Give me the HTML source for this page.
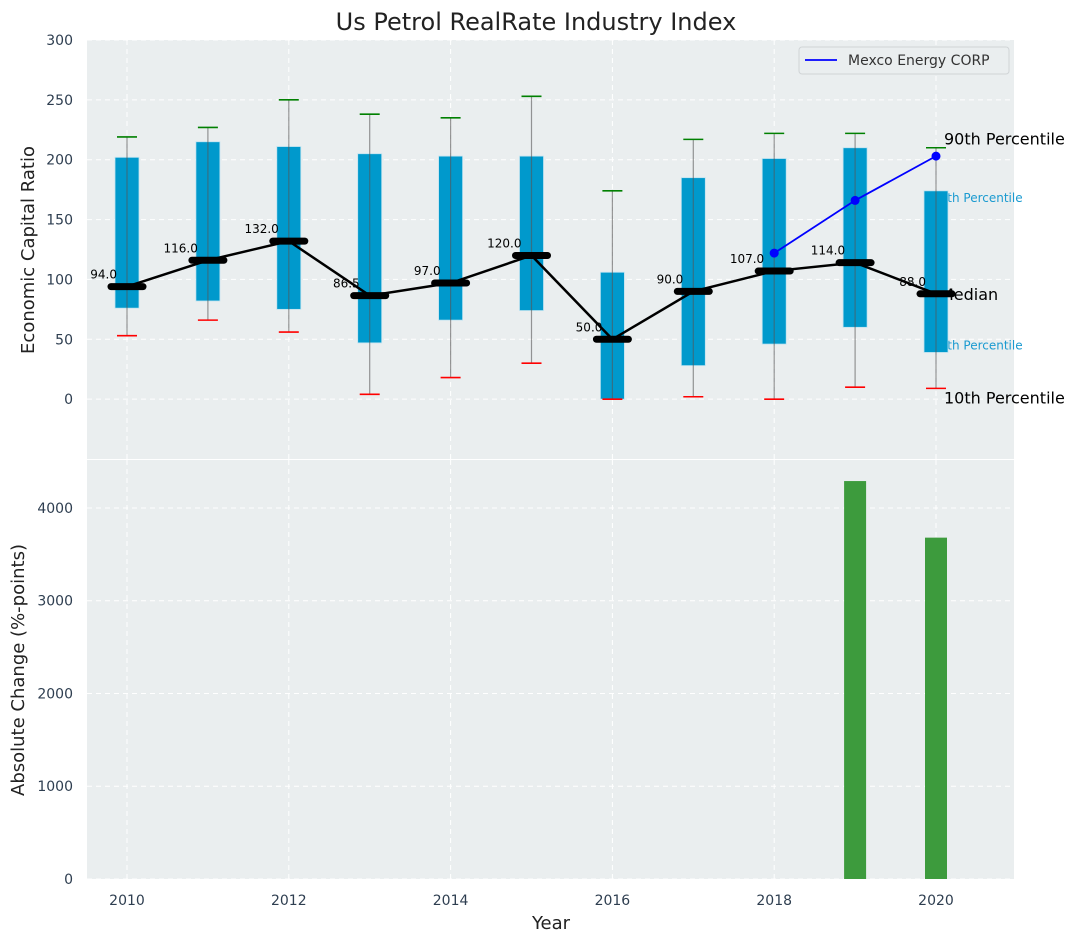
<!DOCTYPE html>
<html><head><meta charset="utf-8"><style>
body{margin:0;background:#fff;font-family:"Liberation Sans","DejaVu Sans",sans-serif;}
svg text{font-family:"DejaVu Sans","Liberation Sans",sans-serif;}
</style></head><body>
<svg id="chart" width="1079" height="942" xmlns="http://www.w3.org/2000/svg">
<text x="536" y="30" font-size="24" text-anchor="middle" fill="#222">Us Petrol RealRate Industry Index</text>
<g id="topPanel"></g>
<g id="botPanel"></g>
</svg>
<script>
const years=[2010,2011,2012,2013,2014,2015,2016,2017,2018,2019,2020];
const p90=[219,227,250,238,235,253,174,217,222,222,210];
const p75=[202,215,211,205,203,203,106,185,201,210,174];
const medians=[94,116,132,86.5,97,120,50,90,107,114,88];
const p25=[76,82,75,47,66,74,0,28,46,60,39];
const p10=[53,66,56,4,18,30,0,2,0,10,9];
const mexcoYears=[2018,2019,2020];
const mexcoValues=[122,166,203];
const changeYears=[2019,2020];
const changeValues=[4290,3680];
const xTicks=[2010,2012,2014,2016,2018,2020];
const yTopTicks=[0,50,100,150,200,250,300];
const yBotTicks=[0,1000,2000,3000,4000];

const NS="http://www.w3.org/2000/svg";
const L=87,R=1014;
const x=v=>127+(v-2010)*80.9;
const TT=40,TB=459,yT=v=>TB+(v+50)/(350)*(TT-TB);
const BT=460,BB=879,yB=v=>BB-v/4517*(BB-BT);
function mk(p,tag,a,txt){const e=document.createElementNS(NS,tag);for(const k in a)e.setAttribute(k,a[k]);if(txt!==undefined)e.textContent=txt;p.appendChild(e);return e;}
const topG=document.getElementById('topPanel'),botG=document.getElementById('botPanel'),svg=document.getElementById('chart');
let e;
e=mk(topG,'rect',{x:L,y:TT,width:R-L,height:TB-TT,fill:'#eaeeef'});


e=mk(botG,'rect',{x:L,y:BT,width:R-L,height:BB-BT,fill:'#eaeeef'});


xTicks.forEach(t=>{
 mk(topG,'line',{x1:x(t),x2:x(t),y1:TT,y2:TB,stroke:'#fff','stroke-dasharray':'5,4','stroke-width':1});
 mk(botG,'line',{x1:x(t),x2:x(t),y1:BT,y2:BB,stroke:'#fff','stroke-dasharray':'5,4','stroke-width':1});
 e=mk(svg,'text',{x:x(t),y:905,'font-size':14,'text-anchor':'middle',fill:'#2e3e50'},String(t));
 
 
});
yTopTicks.forEach(t=>{
 mk(topG,'line',{x1:L,x2:R,y1:yT(t),y2:yT(t),stroke:'#fff','stroke-dasharray':'5,4','stroke-width':1});
 e=mk(topG,'text',{x:73,y:yT(t)+5,'font-size':14,'text-anchor':'end',fill:'#2e3e50'},String(t));
 
 
});
yBotTicks.forEach(t=>{
 mk(botG,'line',{x1:L,x2:R,y1:yB(t),y2:yB(t),stroke:'#fff','stroke-dasharray':'5,4','stroke-width':1});
 e=mk(botG,'text',{x:73,y:yB(t)+5,'font-size':14,'text-anchor':'end',fill:'#2e3e50'},String(t));
 
 
});
const last=years.length-1, ax=x(years[last]);
e=mk(topG,'text',{x:ax+8,y:yT(p90[last])-3,'font-size':16,fill:'#000'},'90th Percentile');


e=mk(topG,'text',{x:ax-4,y:yT(p75[last])+11,'font-size':12,fill:'#1a9ad0'},'75th Percentile');


e=mk(topG,'text',{x:ax+4,y:yT(medians[last])+6,'font-size':16,fill:'#000'},'Median');


e=mk(topG,'text',{x:ax-4,y:yT(p25[last])-3,'font-size':12,fill:'#1a9ad0'},'25th Percentile');


e=mk(topG,'text',{x:ax+8,y:yT(p10[last])+15,'font-size':16,fill:'#000'},'10th Percentile');


years.forEach((yr,i)=>{
 const cx=x(yr);
 e=mk(topG,'rect',{x:cx-12,y:yT(p75[i]),width:24,height:yT(p25[i])-yT(p75[i]),fill:'#0099cc',stroke:'#bfe3f0','stroke-width':0.8});
 
 
 e=mk(topG,'line',{x1:cx,x2:cx,y1:yT(p90[i]),y2:yT(p10[i]),stroke:'#555','stroke-opacity':0.6,'stroke-width':1.2});
 
 
 e=mk(topG,'line',{x1:cx-10,x2:cx+10,y1:yT(p90[i]),y2:yT(p90[i]),stroke:'green','stroke-width':1.6});
 
 
 e=mk(topG,'line',{x1:cx-10,x2:cx+10,y1:yT(p10[i]),y2:yT(p10[i]),stroke:'red','stroke-width':1.6});
 
 
});
e=mk(topG,'polyline',{points:years.map((yr,i)=>x(yr)+','+yT(medians[i])).join(' '),fill:'none',stroke:'#000','stroke-width':2.5});


years.forEach((yr,i)=>{
 const cx=x(yr),cy=yT(medians[i]);
 e=mk(topG,'line',{x1:cx-16,x2:cx+16,y1:cy,y2:cy,stroke:'#000','stroke-width':7,'stroke-linecap':'round'});
 
 
 e=mk(topG,'text',{x:cx-10,y:cy-8,'font-size':12,'text-anchor':'end',fill:'#000'},medians[i].toFixed(1));
 
 
});
e=mk(topG,'polyline',{points:mexcoYears.map((yr,i)=>x(yr)+','+yT(mexcoValues[i])).join(' '),fill:'none',stroke:'#0000ff','stroke-width':1.8});


mexcoYears.forEach((yr,i)=>{
 e=mk(topG,'circle',{cx:x(yr),cy:yT(mexcoValues[i]),r:4.5,fill:'#0000ff'});
 
 
});
e=mk(topG,'rect',{x:799,y:47,width:210,height:27,rx:3,fill:'#eaeeef',stroke:'#d0d4d6'});


mk(topG,'line',{x1:805,x2:837,y1:60,y2:60,stroke:'#0000ff','stroke-width':1.8});
e=mk(topG,'text',{x:848,y:65,'font-size':14,fill:'#333'},'Mexco Energy CORP');


changeYears.forEach((yr,i)=>{
 e=mk(botG,'rect',{x:x(yr)-11,y:yB(changeValues[i]),width:22,height:BB-yB(changeValues[i]),fill:'#3d9b3d'});
 
 
});
e=mk(svg,'text',{x:34,y:250,'font-size':18,'text-anchor':'middle',fill:'#222',transform:'rotate(-90 34 250)'},'Economic Capital Ratio');


e=mk(svg,'text',{x:24,y:670,'font-size':18,'text-anchor':'middle',fill:'#222',transform:'rotate(-90 24 670)'},'Absolute Change (%-points)');


e=mk(svg,'text',{x:551,y:929,'font-size':18,'text-anchor':'middle',fill:'#222'},'Year');


</script>
</body></html>
